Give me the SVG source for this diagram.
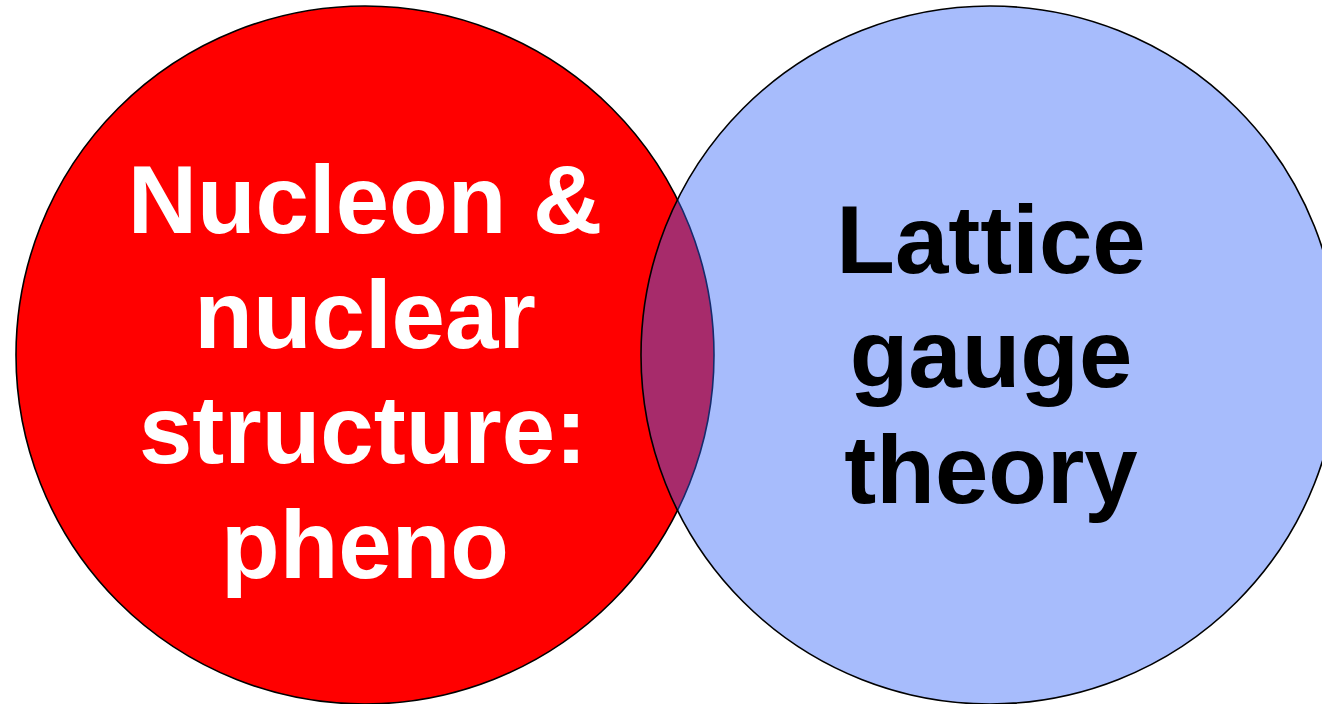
<svg xmlns="http://www.w3.org/2000/svg" width="1322" height="704" viewBox="0 0 1322 704">
  <style>
    .label { font-family: "Liberation Sans", Arial, sans-serif; font-weight: bold; font-size: 96px; text-anchor: middle; }
    .ring { stroke: #000; stroke-width: 1.6; }
  </style>
  <rect width="1322" height="704" fill="#ffffff"/>
  <g id="pheno">
    <circle class="ring" cx="365" cy="355" r="349" fill="#ff0000"/>
    <text class="label" fill="#ffffff" x="365" y="233">Nucleon &amp;</text>
    <text class="label" fill="#ffffff" x="365" y="348">nuclear</text>
    <text class="label" fill="#ffffff" x="363" y="463">structure:</text>
    <text class="label" fill="#ffffff" x="365" y="578">pheno</text>
  </g>
  <g id="lattice">
    <circle class="ring" cx="990" cy="355" r="349" fill="rgb(51,99,248)" fill-opacity="0.43"/>
    <text class="label" fill="#000000" x="991" y="273">Lattice</text>
    <text class="label" fill="#000000" x="991" y="387">gauge</text>
    <text class="label" fill="#000000" x="991" y="503">theory</text>
  </g>
  <g id="connectors"/>
</svg>
